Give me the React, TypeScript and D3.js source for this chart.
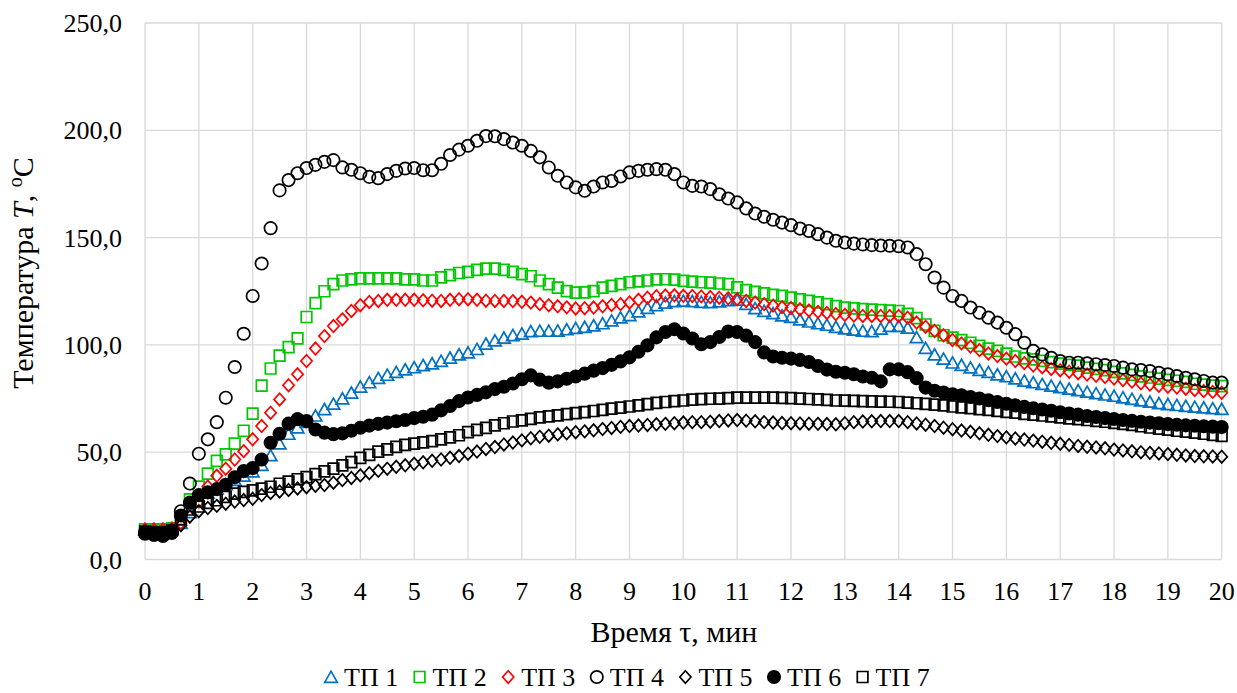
import * as d3 from 'd3';

// time axis: one reading every 10 s (1/6 min), 0..20 min
const TIME = d3.range(0, 121).map((i) => i / 6);
const X_TICKS = d3.range(0, 21);
const Y_TICKS = [0, 50, 100, 150, 200, 250];

const TP1 = [
  14, 14, 14, 14, 17, 22, 27, 31, 33, 35, 37, 39,
  41, 44, 48.5, 54, 58.5, 61.5, 64, 67, 70, 72.5, 75, 77.7,
  80.5, 82.5, 84.5, 86, 87.3, 88.5, 89.5, 90.5, 91.3, 92.5, 94, 95.5,
  96.4, 98, 100.5, 102, 103.3, 104.5, 105.2, 106.3, 106.5, 106.5, 106.6, 107.2,
  107.8, 108.3, 109, 110, 111.3, 112.7, 113.8, 115.5, 117.2, 118.4, 119.6, 120.3,
  120.5, 120.3, 120, 119.8, 120.2, 120.8, 121, 119, 117, 115.8, 114.7, 113.7,
  113, 111.8, 110.8, 110, 109.3, 108.3, 107.6, 107, 106.5, 106.3, 107.5, 108.8,
  108.8, 108, 103.5, 98.5, 95.5, 93.5, 91.7, 90.6, 89.4, 88.3, 87.3, 86.2,
  85.3, 84.3, 83.3, 82.5, 81.7, 80.9, 80.2, 79.5, 78.8, 78.1, 77.4, 76.8,
  76.2, 75.5, 74.8, 74.1, 73.5, 72.8, 72.3, 71.9, 71.5, 71.1, 70.8, 70.4,
  70.1,
];

const TP2 = [
  14, 14, 14, 14.5, 19, 28, 34, 40, 46, 49, 54, 60,
  68, 81, 89, 95, 99, 103, 113, 119.5, 125, 128.3, 130, 130.5,
  131, 131, 131, 131, 131, 130.5, 130.5, 130, 130, 131.5, 132.5, 133.5,
  134, 135, 135.5, 135.5, 135, 134, 133, 132, 130, 128.3, 126.7, 125.1,
  124.4, 124.5, 125.1, 126.7, 127.5, 128.3, 129.2, 129.6, 130, 130.5, 130.6, 130.4,
  129.8, 129.5, 129.2, 129, 128.6, 128.3, 126.8, 125.5, 124.7, 124, 123.3, 122.8,
  122, 121.2, 120.5, 119.8, 119, 118.1, 117.4, 117, 116.7, 116.4, 116.2, 116,
  115.8, 114.5, 112.5, 109.5, 106.5, 104.5, 103.4, 102.2, 101, 99.5, 98.3, 97.2,
  95.9, 94.6, 93.7, 93.3, 92.6, 92, 91.3, 90.7, 90.3, 89.4, 88.8, 88.2,
  87.4, 86.7, 86, 85.3, 84.8, 84.3, 83.7, 83.3, 82.8, 81.9, 81.5, 81,
  80.8,
];

const TP3 = [
  14, 14, 14, 14.5, 17, 20, 27, 34, 39, 42.3, 46.6, 50.5,
  56, 62.2, 68.4, 74.6, 81.2, 86.3, 92.5, 98.3, 104.1, 108.8, 111.9, 115.8,
  118.5, 120, 120.5, 121, 121, 121, 121, 120.8, 120.6, 120.5, 121, 121.3,
  121.3, 121, 120.6, 120.5, 120.5, 120.4, 120.1, 119.7, 119, 118.5, 118, 117.5,
  117, 117.1, 117.4, 118, 118.6, 119, 119.8, 121, 122, 122.7, 123, 123.1,
  122.9, 122.8, 122.6, 122.3, 122, 121.7, 121.3, 120.5, 119.7, 119, 118.3, 117.6,
  117.2, 116.6, 116, 115.4, 114.9, 114.4, 114, 113.7, 113.5, 113.5, 113.5, 113.5,
  113.5, 112.7, 110.4, 108.5, 106.5, 104.5, 102.3, 100.7, 99.2, 97.6, 96, 94.8,
  93.6, 92.5, 91.5, 90.4, 89.6, 88.8, 88.2, 87.5, 86.8, 86.2, 85.6, 85,
  84.3, 83.6, 82.9, 82.1, 81.5, 80.9, 80.5, 80.1, 79.6, 79, 78.5, 78.1,
  77.7,
];

const TP4 = [
  12.5, 11.5, 11, 12.5, 22.5, 35.4, 49.3, 56, 64, 75.4, 89.7, 105.2,
  122.8, 137.9, 154.4, 172, 176.8, 180, 182.4, 183.9, 185.3, 186.1, 182.7, 181.6,
  180, 178.3, 177.7, 179.6, 181.1, 182.2, 182.4, 181.4, 181.4, 184.4, 188.5, 191,
  192.8, 195.1, 197.3, 197.2, 195.9, 194.3, 192.8, 190.4, 187.4, 182.7, 178.8, 175.7,
  173.4, 171.8, 173.8, 175.7, 176.4, 178.5, 180.4, 181.1, 181.6, 181.9, 181.6, 179.6,
  175.7, 174.1, 173.8, 172.6, 170.2, 168.2, 166.4, 163.6, 161.2, 159.7, 158.3, 157,
  155.8, 154.2, 153.1, 151.6, 150, 148.5, 147.7, 147.2, 146.8, 146.5, 146.3, 146.2,
  146, 145.4, 142.3, 137.6, 131.4, 126.7, 122.8, 120.5, 117.4, 115, 112.7, 110.4,
  108, 105, 101, 97.2, 95.6, 94, 92.5, 91.7, 91.7, 91.4, 91, 90.6,
  90.2, 89.4, 88.6, 88.3, 87.8, 87, 86.3, 85.5, 84.7, 84, 83.2, 82.4,
  82.4,
];

const TP5 = [
  13, 12.5, 12.5, 13.5, 16, 20, 22.5, 24, 25, 26, 27, 27.7,
  28.3, 30, 31, 31.7, 32.4, 33.1, 33.7, 34.3, 34.7, 35.8, 37, 38,
  39.2, 40.2, 41.3, 42.3, 43.2, 43.9, 44.6, 45.3, 46, 46.6, 47.4, 48.2,
  49.3, 50.3, 51.5, 52.4, 53.6, 54.5, 55.5, 56.5, 57.2, 57.7, 58.3, 58.8,
  59.3, 59.7, 60.2, 60.8, 61.3, 61.8, 62.2, 62.4, 62.7, 63, 63.2, 63.5,
  63.8, 64, 64, 64.2, 64.5, 64.8, 65, 64.7, 64.4, 64, 63.8, 63.6,
  63.5, 63.4, 63.3, 63.2, 63.1, 63, 63.5, 64, 64.3, 64.4, 64.5, 64.5,
  64.5, 64, 63.4, 62.8, 62.2, 61.4, 60.7, 60.1, 59.5, 58.8, 58.1, 57.5,
  56.9, 56.4, 55.9, 55.4, 54.9, 54.4, 53.9, 53.4, 52.9, 52.5, 52.2, 51.8,
  51.2, 50.8, 50.4, 50, 49.7, 49.4, 49.1, 48.8, 48.5, 48.2, 48.1, 48,
  47.9,
];

const TP6 = [
  12, 11.5, 11.5, 12.5, 20.5, 26.5, 30, 31.3, 32.8, 34.8, 38.3, 41.2,
  42.6, 46.6, 54.4, 58.6, 63.3, 65.4, 64.5, 60.6, 59.1, 58.4, 58.8, 60,
  61.4, 62.4, 63.2, 63.8, 64.4, 65, 65.9, 66.5, 67.5, 69.5, 71.5, 73.8,
  75.5, 76.7, 77.9, 79.4, 80.5, 82, 84, 85.8, 83.8, 82.4, 83, 84.2,
  85.3, 86.6, 88, 89.2, 90.7, 92.3, 94.2, 96.8, 99.8, 103.5, 106, 107.3,
  105.3, 103, 100.3, 101.3, 103.7, 106.2, 106, 104.3, 101.3, 96.5, 94.6, 94,
  93.6, 93, 92, 90.2, 88.5, 87.5, 87, 86.3, 85.3, 84.7, 83, 88.6,
  88.6, 87.3, 84.5, 80.1, 78.6, 77.8, 77, 76.5, 75.7, 75, 74.2, 73.4,
  72.6, 71.8, 71.1, 70.5, 69.9, 69.3, 68.6, 68, 67.5, 66.9, 66.4, 65.9,
  65.5, 65, 64.6, 64.2, 63.8, 63.5, 63.1, 62.8, 62.5, 62.3, 62.1, 61.9,
  61.7,
];

const TP7 = [
  13, 12.5, 12.5, 13.5, 18.7, 23.3, 24.7, 26.4, 27.6, 29.2, 30.7, 31.5,
  32.2, 33, 33.9, 35.3, 36.3, 37.4, 38.4, 39.8, 41.1, 42.3, 43.9, 45.4,
  47.4, 48.8, 50.3, 51.3, 52.5, 53.4, 54, 54.6, 55.2, 56, 56.9, 57.9,
  59.4, 60.4, 61.3, 62.5, 63.5, 64.3, 64.8, 65.5, 66.2, 66.7, 67.2, 67.7,
  68.2, 68.7, 69.2, 69.7, 70.3, 70.8, 71.3, 71.8, 72.4, 73, 73.4, 73.8,
  74.1, 74.5, 74.7, 74.9, 75, 75.2, 75.4, 75.4, 75.4, 75.4, 75.4, 75.3,
  75.2, 75, 74.8, 74.6, 74.4, 74.1, 74, 73.9, 73.8, 73.7, 73.6, 73.5,
  73.4, 73.1, 72.8, 72.5, 72.2, 71.8, 71.3, 70.9, 70.5, 70.1, 69.7, 69.3,
  68.8, 68.4, 67.9, 67.5, 67.1, 66.7, 66.2, 65.8, 65.4, 65, 64.6, 64.2,
  63.7, 63.2, 62.7, 62.1, 61.5, 61, 60.5, 60, 59.6, 59.1, 58.6, 58.1,
  57.6,
];

type Shape = 'triangle' | 'square' | 'diamond' | 'circle';

const SERIES: { name: string; values: number[]; shape: Shape; color: string; filled: boolean }[] = [
  { name: 'ТП 1', values: TP1, shape: 'triangle', color: '#0070C0', filled: false },
  { name: 'ТП 2', values: TP2, shape: 'square', color: '#00C800', filled: false },
  { name: 'ТП 3', values: TP3, shape: 'diamond', color: '#FF0000', filled: false },
  { name: 'ТП 4', values: TP4, shape: 'circle', color: '#000000', filled: false },
  { name: 'ТП 5', values: TP5, shape: 'diamond', color: '#000000', filled: false },
  { name: 'ТП 6', values: TP6, shape: 'circle', color: '#000000', filled: true },
  { name: 'ТП 7', values: TP7, shape: 'square', color: '#000000', filled: false },
];

const W = 1237;
const H = 693;
const FONT = "'Liberation Serif', 'Times New Roman', 'DejaVu Serif', serif";

function markerPath(shape: Shape, cx: number, cy: number): string {
  switch (shape) {
    case 'triangle':
      return `M${cx},${cy - 5.8}L${cx + 6.3},${cy + 5.3}L${cx - 6.3},${cy + 5.3}Z`;
    case 'square':
      return `M${cx - 5.3},${cy - 5.5}h10.6v11h-10.6Z`;
    case 'diamond':
      return `M${cx},${cy - 6.2}L${cx + 5.6},${cy}L${cx},${cy + 6.2}L${cx - 5.6},${cy}Z`;
    default: {
      const r = 6.2;
      return `M${cx - r},${cy}a${r},${r} 0 1,0 ${2 * r},0a${r},${r} 0 1,0 ${-2 * r},0Z`;
    }
  }
}

const fmt = (v: number) => d3.format('.1f')(v).replace('.', ',');

export default function App() {
  const x = d3.scaleLinear().domain([0, 20]).range([145, 1221.7]);
  const y = d3.scaleLinear().domain([0, 250]).range([559.5, 23]);

  return (
    <svg
      width={W}
      height={H}
      style={{ position: 'absolute', left: 0, top: 0, background: '#fff', fontFamily: FONT }}
    >
      <rect width={W} height={H} fill="#fff" />
      {/* grid */}
      <g stroke="#D9D9D9" strokeWidth={1.3}>
        {X_TICKS.map((t) => (
          <line key={`vx${t}`} x1={x(t)} x2={x(t)} y1={y(250)} y2={y(0)} />
        ))}
        {Y_TICKS.map((v) => (
          <line key={`hy${v}`} x1={x(0)} x2={x(20)} y1={y(v)} y2={y(v)} />
        ))}
      </g>

      {/* tick labels */}
      <g fontSize={26} fill="#000" style={{ fontFamily: FONT }}>
        {Y_TICKS.map((v) => (
          <text key={`yl${v}`} x={122} y={y(v) + 9} textAnchor="end">
            {fmt(v)}
          </text>
        ))}
        {X_TICKS.map((t) => (
          <text key={`xl${t}`} x={x(t)} y={600} textAnchor="middle">
            {t}
          </text>
        ))}
      </g>

      {/* axis titles */}
      <text x={674} y={642} textAnchor="middle" fontSize={30} style={{ fontFamily: FONT }}>
        Время τ, мин
      </text>
      <text
        transform="translate(33,273) rotate(-90)"
        textAnchor="middle"
        fontSize={30}
        style={{ fontFamily: FONT }}
      >
        Температура <tspan fontStyle="italic">T</tspan>,{' '}
        <tspan fontSize={20} dy={-11}>о</tspan>
        <tspan dy={11}>С</tspan>
      </text>

      {/* series */}
      {SERIES.map((s) => (
        <g
          key={s.name}
          stroke={s.color}
          strokeWidth={1.7}
          fill={s.filled ? s.color : 'none'}
        >
          {s.values.map((v, i) => (
            <path key={i} d={markerPath(s.shape, x(TIME[i]), y(v))} />
          ))}
        </g>
      ))}

      {/* legend */}
      <g style={{ fontFamily: FONT }}>
        {SERIES.map((s, i) => {
          const mx = 331 + i * 88.6;
          return (
            <g key={`lg${s.name}`}>
              <path
                d={markerPath(s.shape, mx, 677)}
                stroke={s.color}
                strokeWidth={1.7}
                fill={s.filled ? s.color : 'none'}
              />
              <text x={mx + 13} y={686} fontSize={26}>
                {s.name}
              </text>
            </g>
          );
        })}
      </g>
    </svg>
  );
}
